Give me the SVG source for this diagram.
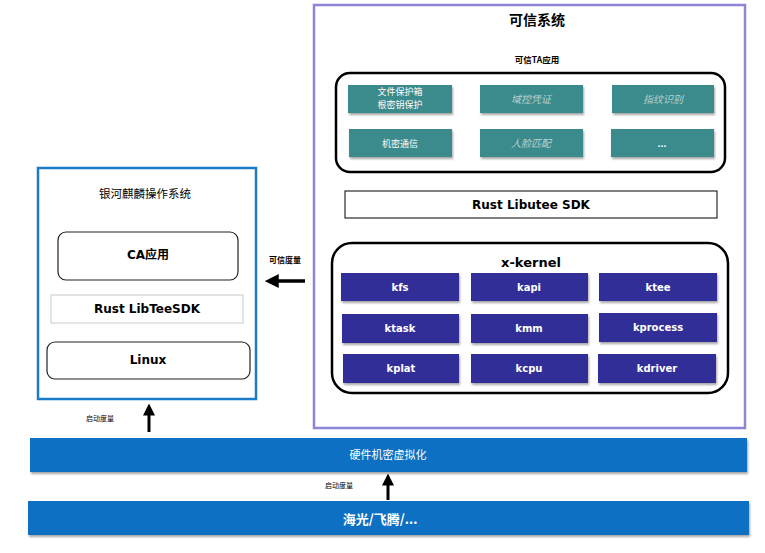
<svg xmlns="http://www.w3.org/2000/svg" width="765" height="553" viewBox="0 0 765 553">
<defs>
<filter id="sh" x="-10%" y="-20%" width="130%" height="150%"><feDropShadow dx="1" dy="2" stdDeviation="1.2" flood-color="#000" flood-opacity="0.35"/></filter>
<marker id="ah" markerWidth="4" markerHeight="4" refX="0.5" refY="2" orient="auto" markerUnits="strokeWidth"><path d="M0,0 L4,2 L0,4 Z" fill="#000"/></marker>
</defs>
<style>
.zh{font-family:"Noto Sans CJK SC","Noto Sans",sans-serif}
.en{font-family:"DejaVu Sans","Noto Sans CJK SC",sans-serif;font-weight:bold}
.teal{fill:#3a8a8c;filter:url(#sh)}
.kb{fill:#312f98;filter:url(#sh)}
.kt{font-family:"DejaVu Sans",sans-serif;font-weight:bold;font-size:10px;fill:#fff;text-anchor:middle}
.tt{font-family:"Noto Sans CJK SC",sans-serif;font-size:9px;fill:#fff;text-anchor:middle}
.ti{font-family:"Noto Sans CJK SC",sans-serif;font-size:10px;fill:#b9d2d2;text-anchor:middle;font-style:italic}
.cont{fill:#fff;stroke:#000;stroke-width:2.5}
.bar{fill:#0a6fc2;filter:url(#sh)}
</style>
<rect width="765" height="553" fill="#fff"/>

<g id="trusted-system">
<rect x="314" y="5" width="431" height="423" fill="#fff" stroke="#8c86d4" stroke-width="2.5"/>
<text x="537" y="25" class="zh" font-size="14" font-weight="bold" text-anchor="middle">可信系统</text>
</g>

<g id="ta-apps">
<text x="537" y="63" class="zh" font-size="8.5" font-weight="bold" text-anchor="middle">可信TA应用</text>
<rect x="336" y="73" width="389" height="99" rx="14" class="cont"/>
<g id="ta-file"><rect x="348" y="85" width="104" height="28" class="teal"/><text x="400" y="95" class="tt" font-size="8">文件保护箱</text><text x="400" y="108" class="tt" font-size="8">根密钥保护</text></g>
<g id="ta-domain"><rect x="480" y="85" width="103" height="28" class="teal"/><text x="531" y="103" class="ti">域控凭证</text></g>
<g id="ta-finger"><rect x="612" y="85" width="102" height="28" class="teal"/><text x="663" y="103" class="ti">指纹识别</text></g>
<g id="ta-comm"><rect x="349" y="129" width="103" height="28" class="teal"/><text x="400" y="147" class="tt" font-size="10">机密通信</text></g>
<g id="ta-face"><rect x="480" y="129" width="103" height="28" class="teal"/><text x="531" y="147" class="ti">人脸匹配</text></g>
<g id="ta-more"><rect x="611" y="129" width="103" height="28" class="teal"/><text x="662" y="147" class="tt" font-weight="bold">...</text></g>
</g>

<g id="rust-libutee">
<rect x="345" y="191" width="372" height="27" fill="#fff" stroke="#000" stroke-width="1"/>
<text x="531" y="209" class="en" font-size="12" text-anchor="middle">Rust Libutee SDK</text>
</g>

<g id="x-kernel">
<rect x="332" y="243" width="396" height="150" rx="20" class="cont"/>
<text x="531" y="267" class="en" font-size="13" text-anchor="middle">x-kernel</text>
<g id="kfs"><rect x="341" y="273" width="118" height="28" class="kb"/><text x="400" y="291" class="kt">kfs</text></g>
<g id="kapi"><rect x="471" y="273" width="117" height="28" class="kb"/><text x="529" y="291" class="kt">kapi</text></g>
<g id="ktee"><rect x="599" y="273" width="118" height="28" class="kb"/><text x="658" y="291" class="kt">ktee</text></g>
<g id="ktask"><rect x="342" y="314" width="117" height="29" class="kb"/><text x="400" y="332" class="kt">ktask</text></g>
<g id="kmm"><rect x="471" y="314" width="117" height="29" class="kb"/><text x="529" y="332" class="kt">kmm</text></g>
<g id="kprocess"><rect x="599" y="313" width="118" height="29" class="kb"/><text x="658" y="331" class="kt">kprocess</text></g>
<g id="kplat"><rect x="343" y="354" width="116" height="29" class="kb"/><text x="401" y="372" class="kt">kplat</text></g>
<g id="kcpu"><rect x="471" y="354" width="117" height="29" class="kb"/><text x="529" y="372" class="kt">kcpu</text></g>
<g id="kdriver"><rect x="598" y="354" width="118" height="29" class="kb"/><text x="657" y="372" class="kt">kdriver</text></g>
</g>

<g id="kylin-os">
<rect x="38" y="168" width="218" height="231" fill="#fff" stroke="#1a7cc8" stroke-width="2.5"/>
<text x="145" y="198" class="zh" font-size="11.5" text-anchor="middle">银河麒麟操作系统</text>
</g>
<g id="ca-app">
<rect x="58" y="232" width="180" height="48" rx="8" fill="#fff" stroke="#222" stroke-width="1.2"/>
<text x="148" y="259" class="en" font-size="12" text-anchor="middle">CA应用</text>
</g>
<g id="rust-libteesdk">
<rect x="51" y="295" width="192" height="28" fill="#fff" stroke="#c4ccd2" stroke-width="1"/>
<text x="147" y="313" class="en" font-size="12" text-anchor="middle">Rust LibTeeSDK</text>
</g>
<g id="linux">
<rect x="47" y="342" width="203" height="37" rx="8" fill="#fff" stroke="#222" stroke-width="1.2"/>
<text x="148" y="364" class="en" font-size="12" text-anchor="middle">Linux</text>
</g>

<g id="hw-virt">
<rect x="30" y="438" width="717" height="34" class="bar"/>
<text x="388" y="459" class="zh" font-size="11" fill="#fff" text-anchor="middle">硬件机密虚拟化</text>
</g>
<g id="hw-platform">
<rect x="28" y="501" width="721" height="34" class="bar"/>
<text x="380" y="524" class="zh" font-size="13" font-weight="bold" fill="#fff" text-anchor="middle">海光/飞腾/...</text>
</g>

<g id="connectors">
<line x1="305" y1="281" x2="277" y2="281" stroke="#000" stroke-width="3.5" marker-end="url(#ah)"/>
<text x="285" y="263" class="zh" font-size="8" font-weight="bold" text-anchor="middle">可信度量</text>
<line x1="149" y1="432" x2="149" y2="414" stroke="#000" stroke-width="3" marker-end="url(#ah)"/>
<text x="100" y="421" class="zh" font-size="7" text-anchor="middle">启动度量</text>
<line x1="388" y1="500" x2="388" y2="484" stroke="#000" stroke-width="3" marker-end="url(#ah)"/>
<text x="339" y="488" class="zh" font-size="7" text-anchor="middle">启动度量</text>
</g>
</svg>
